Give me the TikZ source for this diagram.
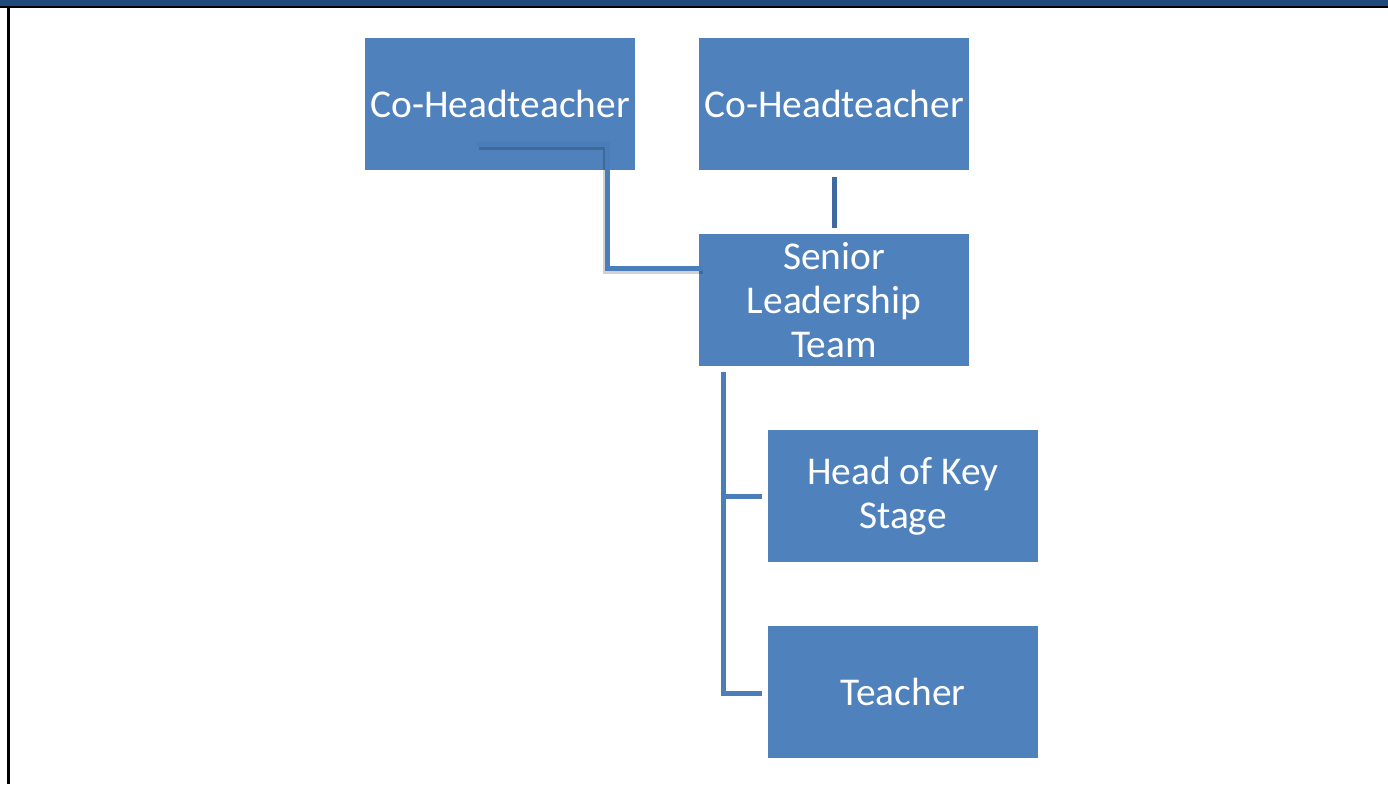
\documentclass[tikz,border=0pt]{standalone}
\usepackage{fontspec}
\setmainfont{Carlito}
\usetikzlibrary{calc}
\definecolor{boxblue}{HTML}{4F81BD}
\definecolor{linkblue}{HTML}{4A7EBB}
\definecolor{stemblue}{HTML}{3E6AA0}
\definecolor{barblue}{HTML}{1F497D}
\tikzset{
  orgbox/.style={fill=boxblue, draw=none, minimum width=270pt, minimum height=132pt,
    inner sep=0pt, text=white, align=center, font=\fontsize{39.4}{44}\selectfont},
  link/.style={draw=linkblue, line width=5pt, line cap=butt, line join=miter},
  shade/.style={draw=black, opacity=0.18, line width=6pt, line join=miter},
}
\begin{document}
\begin{tikzpicture}[x=1pt,y=-1pt]
\useasboundingbox (0,0) rectangle (1388,784);
\fill[white] (0,0) rectangle (1388,784);
% top bar and frame
\fill[barblue] (0,0) rectangle (1388,6);
\fill[black] (0,6) rectangle (1388,8.5);
\fill[black] (7,6) rectangle (9.5,784);

\node[orgbox] (ch1) at (500,104) {Co-Headteacher};
\node[orgbox] (ch2) at (834,104) {Co-Headteacher};
\node[orgbox] (slt) at (834,300) {Senior\\Leadership\\Team};
\node[orgbox] (hks) at (903,496) {Head of Key\\Stage};
\node[orgbox] (tea) at (903,692) {Teacher};

\coordinate (a1) at ($(ch1.center)+(-23,40)$);
\coordinate (a2) at ($(slt.west)+(4,-32)$);
\coordinate (bend) at (607,268);
\draw[shade] ($(a1)+(2,3)$) -| ($(bend)+(-1,3)$) -- ($(a2)+(0,3)$);
\draw[link] (a1) -| (bend) -- (a2);

\coordinate (b1) at ($(ch2.south)+(0,7)$);
\coordinate (b2) at ($(slt.north)+(0,-6)$);
\draw[link, draw=stemblue] (b1) -- (b2);

\coordinate (t0) at ($(slt.south west)+(25,6)$);
\coordinate (t1) at ($(hks.west)+(-6,0)$);
\coordinate (t2) at ($(tea.west)+(-6,1)$);
\draw[link] (t0) |- (t2);
\draw[link] (t1) -| (t0 |- t1);
\end{tikzpicture}
\end{document}
